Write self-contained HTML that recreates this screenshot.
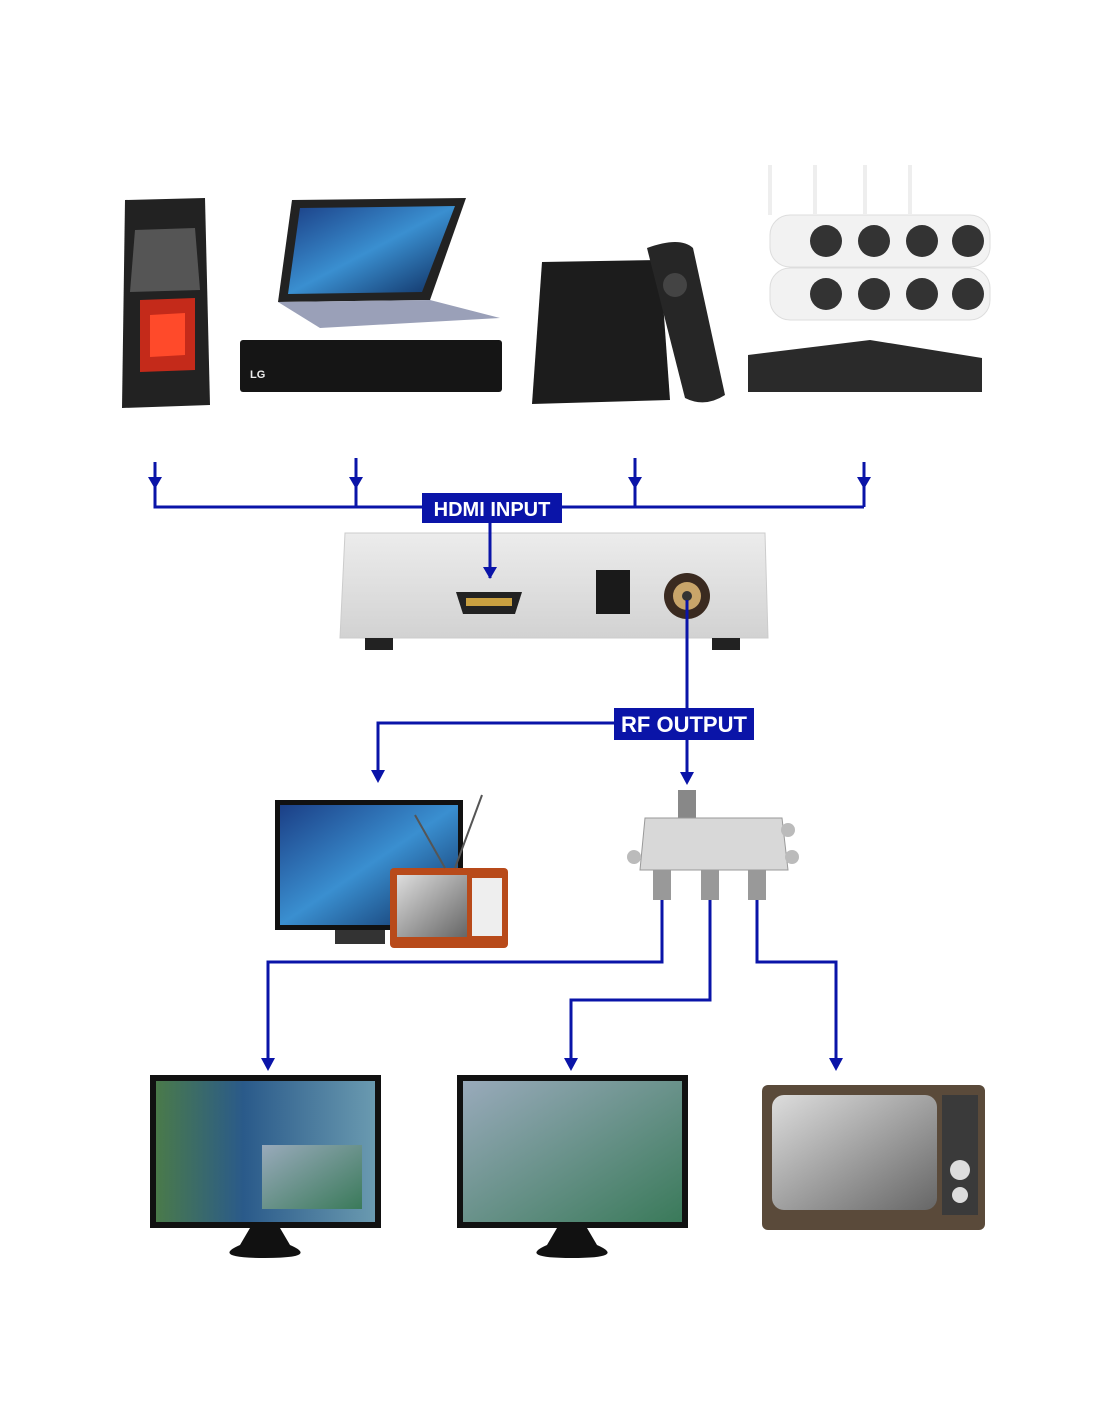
<!DOCTYPE html>
<html><head><meta charset="utf-8"><style>
html,body{margin:0;padding:0;background:#fff;}
svg{display:block}
text{font-family:"Liberation Sans",Arial,sans-serif;font-weight:bold}
</style></head><body>
<svg width="1100" height="1422" viewBox="0 0 1100 1422" xmlns="http://www.w3.org/2000/svg">
<defs>
<linearGradient id="scr" x1="0" y1="0" x2="1" y2="1"><stop offset="0" stop-color="#1b3f86"/><stop offset="0.5" stop-color="#3a8fd0"/><stop offset="1" stop-color="#0d2a5c"/></linearGradient>
<linearGradient id="grey" x1="0" y1="0" x2="0" y2="1"><stop offset="0" stop-color="#ececec"/><stop offset="1" stop-color="#d2d2d2"/></linearGradient>
<linearGradient id="bw" x1="0" y1="0" x2="1" y2="1"><stop offset="0" stop-color="#ddd"/><stop offset="1" stop-color="#666"/></linearGradient>
<linearGradient id="av" x1="0" y1="0" x2="1" y2="0"><stop offset="0" stop-color="#4a7a4a"/><stop offset="0.4" stop-color="#2a5a8a"/><stop offset="1" stop-color="#6a9ab0"/></linearGradient>
<linearGradient id="fac" x1="0" y1="0" x2="1" y2="1"><stop offset="0" stop-color="#9ab"/><stop offset="1" stop-color="#3a7a5a"/></linearGradient>
</defs>

<!-- PC tower -->
<path d="M125 200 L205 198 L210 405 L122 408 Z" fill="#222"/>
<path d="M135 230 L195 228 L200 290 L130 292 Z" fill="#555"/>
<path d="M140 300 L195 298 L195 370 L140 372 Z" fill="#c42a1a"/>
<path d="M150 315 L185 313 L185 355 L150 357 Z" fill="#ff4a2a"/>
<!-- laptop -->
<path d="M292 200 L466 198 L430 300 L278 302 Z" fill="#222"/>
<path d="M300 208 L455 206 L422 292 L288 294 Z" fill="url(#scr)"/>
<path d="M278 302 L430 300 L500 318 L320 328 Z" fill="#9aa0b8"/>
<!-- LG player -->
<rect x="240" y="340" width="262" height="52" rx="3" fill="#151515"/>
<text x="250" y="378" font-size="11" fill="#eee">LG</text>
<!-- streaming box -->
<path d="M542 262 L660 260 L670 400 L532 404 Z" fill="#1c1c1c"/>
<path d="M647 248 Q680 236 693 248 L725 395 Q705 408 685 398 Z" fill="#262626"/>
<circle cx="675" cy="285" r="12" fill="#444"/>
<!-- cameras -->
<g fill="#f2f2f2" stroke="#ddd">
<rect x="770" y="215" width="220" height="52" rx="20"/>
<rect x="770" y="268" width="220" height="52" rx="20"/>
</g>
<g fill="#333">
<circle cx="826" cy="241" r="16"/><circle cx="874" cy="241" r="16"/><circle cx="922" cy="241" r="16"/><circle cx="968" cy="241" r="16"/>
<circle cx="826" cy="294" r="16"/><circle cx="874" cy="294" r="16"/><circle cx="922" cy="294" r="16"/><circle cx="968" cy="294" r="16"/>
</g>
<g stroke="#eee" stroke-width="4"><line x1="770" y1="165" x2="770" y2="215"/><line x1="815" y1="165" x2="815" y2="215"/><line x1="865" y1="165" x2="865" y2="215"/><line x1="910" y1="165" x2="910" y2="215"/></g>
<path d="M748 355 L870 340 L982 358 L982 392 L748 392 Z" fill="#2a2a2a"/>

<!-- converter box -->
<path d="M345 533 L765 533 L768 638 L340 638 Z" fill="url(#grey)" stroke="#ccc"/>
<rect x="365" y="638" width="28" height="12" fill="#222"/><rect x="712" y="638" width="28" height="12" fill="#222"/>
<path d="M456 592 L522 592 L515 614 L463 614 Z" fill="#222"/>
<rect x="466" y="598" width="46" height="8" fill="#c9a040"/>
<rect x="596" y="570" width="34" height="44" fill="#1a1a1a"/>
<circle cx="687" cy="596" r="23" fill="#3a2a20"/><circle cx="687" cy="596" r="14" fill="#c9a56a"/><circle cx="687" cy="596" r="5" fill="#333"/>

<!-- TV + old TV -->
<rect x="275" y="800" width="188" height="130" fill="#111"/>
<rect x="280" y="805" width="178" height="120" fill="url(#scr)"/>
<rect x="335" y="930" width="50" height="14" fill="#333"/>
<rect x="390" y="868" width="118" height="80" rx="4" fill="#b84a1a"/>
<rect x="397" y="875" width="70" height="62" fill="url(#bw)"/>
<rect x="472" y="878" width="30" height="58" fill="#eee"/>
<line x1="445" y1="868" x2="415" y2="815" stroke="#555" stroke-width="2"/><line x1="455" y1="868" x2="482" y2="795" stroke="#555" stroke-width="2"/>

<!-- splitter -->
<rect x="678" y="790" width="18" height="28" fill="#888"/>
<path d="M645 818 L782 818 L788 870 L640 870 Z" fill="#d8d8d8" stroke="#999"/>
<circle cx="634" cy="857" r="7" fill="#bbb"/><circle cx="792" cy="857" r="7" fill="#bbb"/><circle cx="788" cy="830" r="7" fill="#bbb"/>
<rect x="653" y="870" width="18" height="30" fill="#999"/><rect x="701" y="870" width="18" height="30" fill="#999"/><rect x="748" y="870" width="18" height="30" fill="#999"/>

<!-- bottom monitors -->
<rect x="150" y="1075" width="231" height="153" fill="#111"/>
<rect x="156" y="1081" width="219" height="141" fill="url(#av)"/>
<rect x="262" y="1145" width="100" height="64" fill="url(#fac)"/>
<path d="M250 1228 L280 1228 L290 1245 Q320 1258 265 1258 Q210 1258 240 1245 Z" fill="#111"/>
<rect x="457" y="1075" width="231" height="153" fill="#111"/>
<rect x="463" y="1081" width="219" height="141" fill="url(#fac)"/>
<path d="M557 1228 L587 1228 L597 1245 Q627 1258 572 1258 Q517 1258 547 1245 Z" fill="#111"/>
<rect x="762" y="1085" width="223" height="145" rx="6" fill="#5a4a3a"/>
<rect x="772" y="1095" width="165" height="115" rx="12" fill="url(#bw)"/>
<rect x="942" y="1095" width="36" height="120" fill="#3a3a3a"/>
<circle cx="960" cy="1170" r="10" fill="#ddd"/><circle cx="960" cy="1195" r="8" fill="#ddd"/>

<!-- connectors -->
<g stroke="#0a14a8" stroke-width="3" fill="none">
<polyline points="155,462 155,507 864,507"/>
<line x1="356" y1="458" x2="356" y2="507"/>
<line x1="635" y1="458" x2="635" y2="507"/>
<line x1="864" y1="462" x2="864" y2="507"/>
<line x1="490" y1="507" x2="490" y2="578"/>
<line x1="687" y1="600" x2="687" y2="778"/>
<polyline points="687,723 378,723 378,775"/>
<polyline points="662,900 662,962 268,962 268,1062"/>
<polyline points="710,900 710,1000 571,1000 571,1062"/>
<polyline points="757,900 757,962 836,962 836,1062"/>
</g>
<g fill="#0a14a8">
<path d="M148 477 L162 477 L155 489 Z"/>
<path d="M349 477 L363 477 L356 489 Z"/>
<path d="M628 477 L642 477 L635 489 Z"/>
<path d="M857 477 L871 477 L864 489 Z"/>
<path d="M483 567 L497 567 L490 579 Z"/>
<path d="M680 772 L694 772 L687 785 Z"/>
<path d="M371 770 L385 770 L378 783 Z"/>
<path d="M261 1058 L275 1058 L268 1071 Z"/>
<path d="M564 1058 L578 1058 L571 1071 Z"/>
<path d="M829 1058 L843 1058 L836 1071 Z"/>
<rect x="422" y="493" width="140" height="30"/>
<rect x="614" y="708" width="140" height="32"/>
</g>
<text x="492" y="516" font-size="20" fill="#fff" text-anchor="middle">HDMI INPUT</text>
<text x="684" y="732" font-size="22" fill="#fff" text-anchor="middle">RF OUTPUT</text>
</svg>
</body></html>
